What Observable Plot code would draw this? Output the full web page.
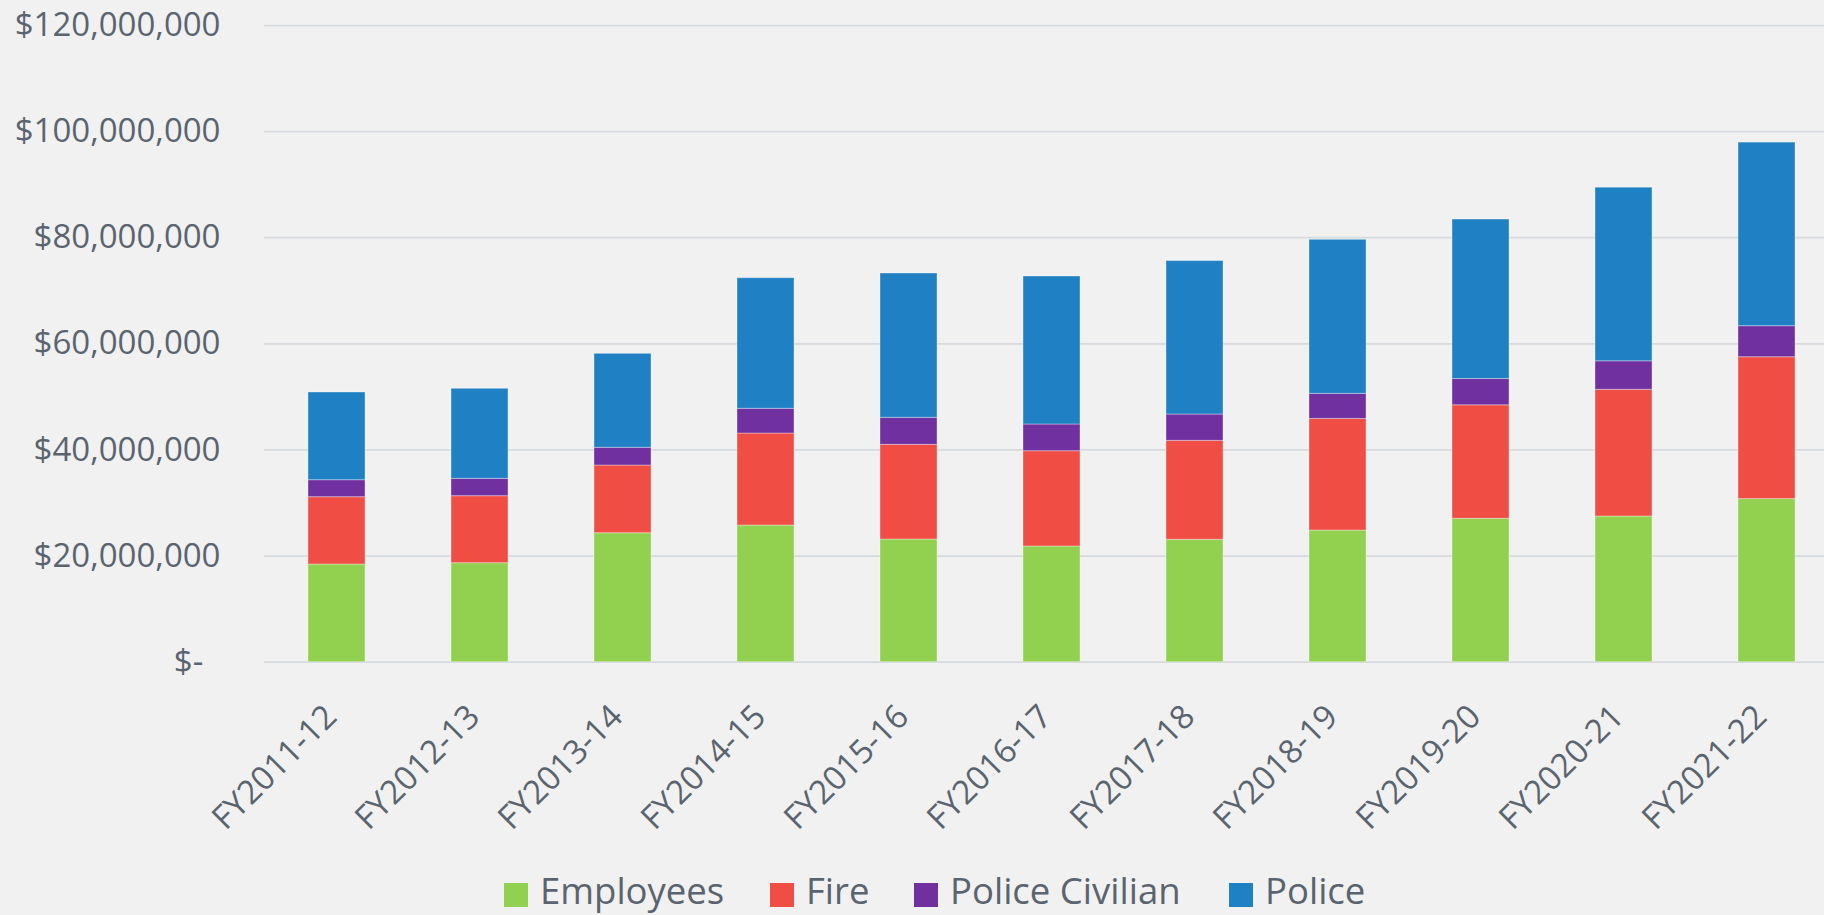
<!DOCTYPE html>
<html>
<head>
<meta charset="utf-8">
<script src="https://cdn.jsdelivr.net/npm/d3@7"></script>
<script src="https://cdn.jsdelivr.net/npm/@observablehq/plot@0.6"></script>
<style>
  html, body { margin: 0; padding: 0; background: #f1f1f1; }
  #chart { width: 1824px; height: 860px; }
  #legend { position: relative; height: 55px; width: 1824px; font-family: "Open Sans", sans-serif; font-size: 36.5px; color: #5a6470; }
  #legend .item { position: absolute; top: 0; display: flex; align-items: flex-start; }
  #legend .sw { width: 24px; height: 24px; margin-top: 23px; margin-right: 12px; }
  #legend .lbl { line-height: 1; position: relative; top: 12px; white-space: nowrap; }
</style>
</head>
<body>
<div id="chart"></div>
<div id="legend"></div>
<script>
// Fiscal years (categories)
const years = ["FY2011-12", "FY2012-13", "FY2013-14", "FY2014-15", "FY2015-16", "FY2016-17",
               "FY2017-18", "FY2018-19", "FY2019-20", "FY2020-21", "FY2021-22"];

// Series values, in millions of dollars
const employees      = [18.41, 18.66, 24.31, 25.76, 23.12, 21.81, 23.07, 24.82, 27.04, 27.46, 30.74];
const fire           = [12.69, 12.63, 12.76, 17.34, 17.85, 17.96, 18.65, 21.03, 21.38, 23.88, 26.74];
const policeCivilian = [ 3.20,  3.27,  3.34,  4.66,  5.09,  5.03,  4.96,  4.73,  4.95,  5.37,  5.85];
const police         = [16.53, 16.97, 17.71, 24.61, 27.20, 27.89, 28.92, 29.03, 30.06, 32.72, 34.60];

// Series names and colours
const seriesNames  = ["Employees", "Fire", "Police Civilian", "Police"];
const seriesColors = ["#92d050", "#f04e45", "#7030a0", "#1f80c4"];

// Y tick values
const yTicks = [0, 20e6, 40e6, 60e6, 80e6, 100e6, 120e6];

const seriesArrays = [employees, fire, policeCivilian, police];
const data = [];
years.forEach((yr, i) => {
  seriesNames.forEach((name, j) => {
    data.push({year: yr, series: name, value: seriesArrays[j][i] * 1e6});
  });
});

const fmt = d3.format(",");
const chart = Plot.plot({
  width: 1824,
  height: 860,
  marginLeft: 264,
  marginRight: 0,
  marginTop: 25,
  marginBottom: 198.3,
  style: {background: "#f1f1f1", fontFamily: "'Open Sans', sans-serif", color: "#5a6470", overflow: "visible"},
  x: {domain: years, range: [264.4, 1838.5], paddingInner: 0.6, paddingOuter: 0.3, label: null},
  y: {domain: [0, 120e6], label: null},
  color: {domain: seriesNames, range: seriesColors},
  marks: [
    Plot.gridY(yTicks, {stroke: "#d6dade", strokeOpacity: 1, strokeWidth: 1.75}),
    Plot.barY(data, {x: "year", y: "value", fill: "series", stroke: "#ffffff", strokeOpacity: 0.35, strokeWidth: 1}),
    Plot.axisY({ticks: yTicks, tickSize: 0, tickPadding: 44, fontSize: 33, label: null,
      tickFormat: d => d === 0 ? "$-\u00a0\u00a0" : "$" + fmt(d)}),
    Plot.axisX({tickSize: 0, tickRotate: -45, tickPadding: 49, dx: -6, fontSize: 33, label: null})
  ]
});
document.getElementById("chart").appendChild(chart);

// Legend
const legend = document.getElementById("legend");
const lefts = [504, 770, 914, 1229];
seriesNames.forEach((name, j) => {
  const item = document.createElement("div");
  item.className = "item";
  item.style.left = lefts[j] + "px";
  const sw = document.createElement("div");
  sw.className = "sw";
  sw.style.background = seriesColors[j];
  const lbl = document.createElement("div");
  lbl.className = "lbl";
  lbl.textContent = name;
  item.appendChild(sw);
  item.appendChild(lbl);
  legend.appendChild(item);
});
</script>
</body>
</html>
